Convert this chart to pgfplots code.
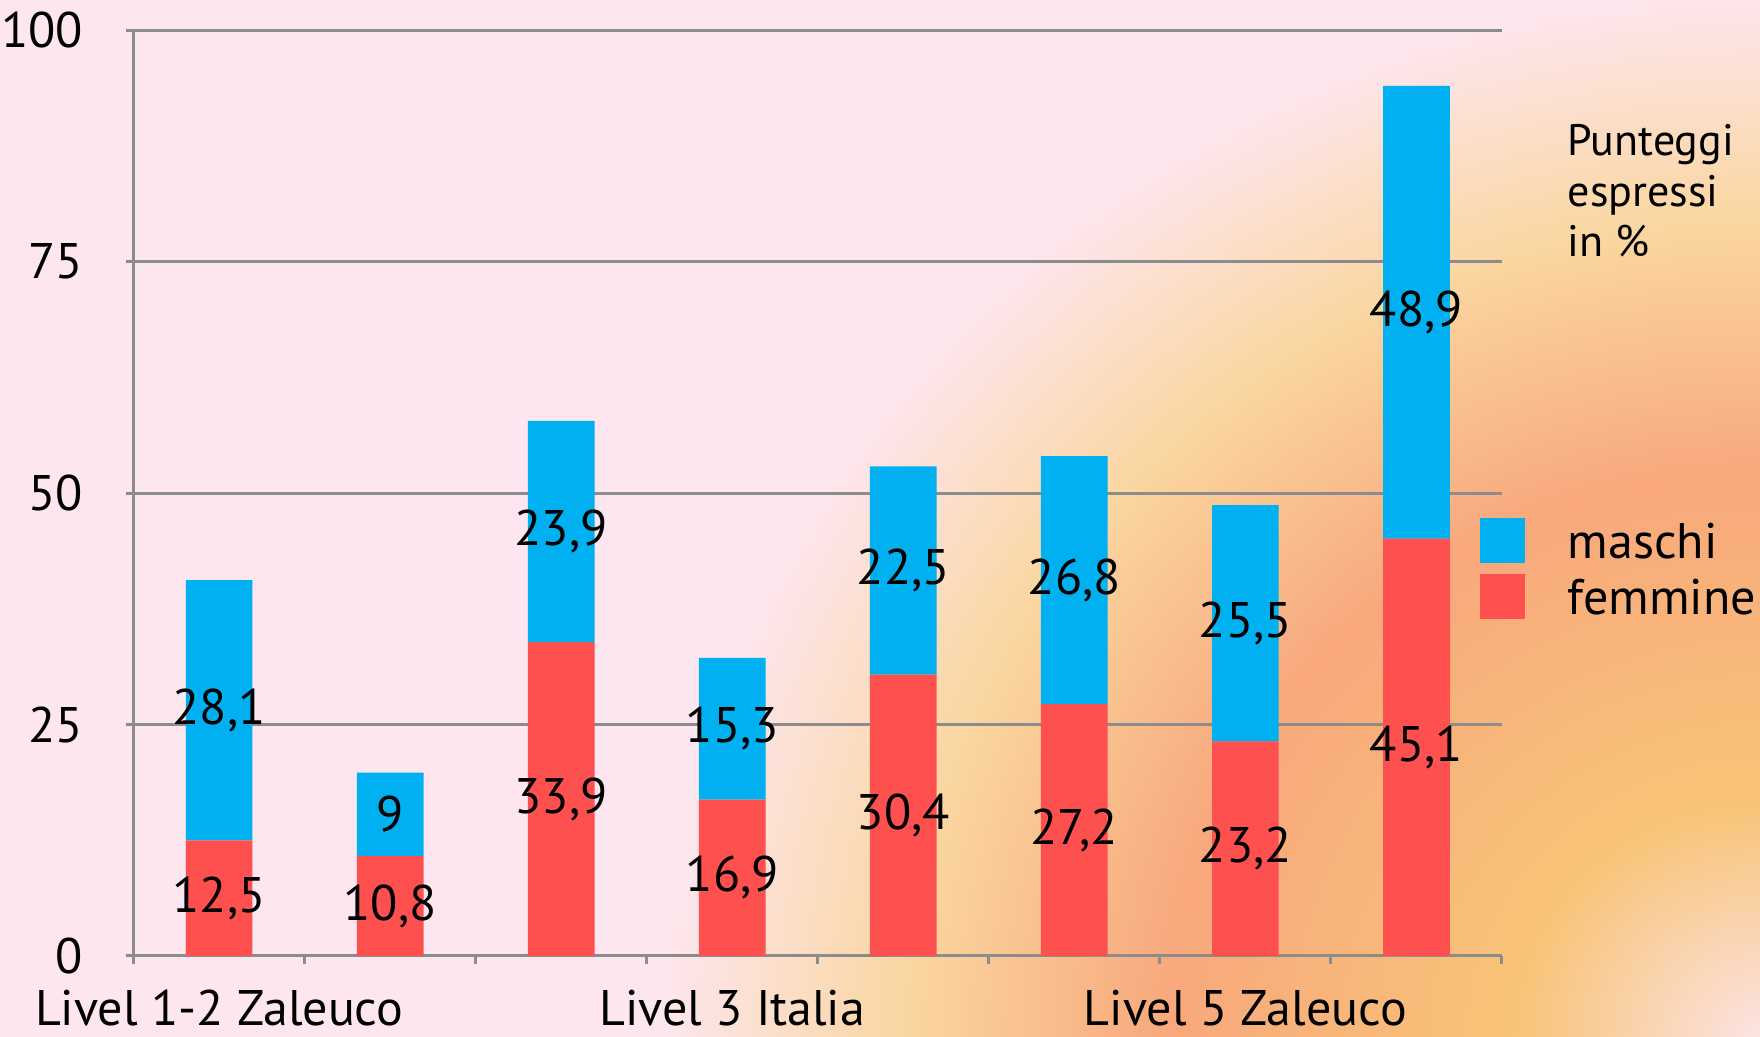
\documentclass[border=0pt]{standalone}
\usepackage{pgfplots}
\pgfplotsset{compat=1.18}
\usepackage{pgfplotstable}
\usepackage{fontspec}
\setmainfont{PT Sans}
\definecolor{bgpink}{HTML}{FDE6EF}
\definecolor{cC}{HTML}{FCE3E3}
\definecolor{cY}{HTML}{F8C478}
\definecolor{cS}{HTML}{F8A87C}
\definecolor{cL}{HTML}{FAD6A0}
\definecolor{bluec}{HTML}{00B0F0}
\definecolor{redc}{HTML}{FF5050}
\definecolor{gridgray}{HTML}{8C8C8C}
\pgfdeclareradialshading{bgshade}{\pgfpoint{0bp}{0bp}}{color(0bp)=(cC); color(5.5bp)=(cY); color(13.4bp)=(cS); color(19.4bp)=(cL); color(25bp)=(bgpink); color(50bp)=(bgpink)}

\pgfplotstableread{
x f m
0 12.5 28.1
1 10.8 9
2 33.9 23.9
3 16.9 15.3
4 30.4 22.5
5 27.2 26.8
6 23.2 25.5
7 45.1 48.9
}\datatable

\pgfplotstableread{
x y lab
0 6.25 12,5
0 26.55 28,1
1 5.4 10,8
1 15.3 9
2 16.95 33,9
2 45.85 23,9
3 8.45 16,9
3 24.55 15,3
4 15.2 30,4
4 41.65 22,5
5 13.6 27,2
5 40.6 26,8
6 11.6 23,2
6 35.95 25,5
7 22.55 45,1
7 69.55 48,9
}\labeltable

\begin{document}
\begin{tikzpicture}
\begin{scope}
\clip (-33.4pt,-20.25pt) rectangle (406.6pt,239pt);
\fill[bgpink] (-33.4pt,-20.25pt) rectangle (406.6pt,239pt);
\shade[shading=bgshade] (406.6pt,-20.25pt) ellipse [x radius=275pt, y radius=262pt];
\end{scope}
\begin{axis}[
  at={(0,0)}, anchor=south west, scale only axis,
  width=342.1pt, height=231.4pt,
  xmin=-0.5, xmax=7.5, ymin=0, ymax=100,
  ybar stacked, bar width=0.39,
  axis x line*=bottom, axis y line*=left,
  axis line style={draw=gridgray, line width=0.75pt, -},
  ytick={0,25,50,75,100},
  ymajorgrids, grid style={draw=gridgray, line width=0.75pt},
  xtick={-0.5,0.5,...,7.5}, xticklabels={},
  extra x ticks={0,3,6},
  extra x tick labels={Livel 1-2 Zaleuco, Livel 3 Italia, Livel 5 Zaleuco},
  extra x tick style={major tick length=0pt, grid=none},
  tick align=outside, major tick length=2pt,
  tick style={draw=gridgray, line width=0.75pt},
  /pgf/number format/assume math mode=true,
  yticklabel style={anchor=east, inner sep=0pt, xshift=-10.5pt, font=\fontsize{12.5}{15}\selectfont},
  xticklabel style={anchor=base, inner sep=0pt, text depth=0pt, yshift=-17.5pt, font=\fontsize{12.5}{15}\selectfont},
  reverse legend,
  legend image code/.code={\fill[#1] (0pt,-5.625pt) rectangle (11.25pt,5.625pt);},
  legend style={at={(0.9832,0.4743)}, anchor=north west, draw=none, fill=none,
    inner sep=0pt, row sep=2.75pt, font=\fontsize{12.5}{15}\selectfont,
    nodes={inner sep=0pt, text height=9pt, text depth=0pt},
    /tikz/every odd column/.append style={column sep=10.75pt}},
  legend cell align=left,
]
\addplot[fill=redc, draw=none] table[x=x, y=f]{\datatable};
\addlegendentry{femmine}
\addplot[fill=bluec, draw=none] table[x=x, y=m]{\datatable};
\addlegendentry{maschi}
\end{axis}
\begin{axis}[
  at={(0,0)}, anchor=south west, scale only axis,
  width=342.1pt, height=231.4pt,
  xmin=-0.5, xmax=7.5, ymin=0, ymax=100,
  hide axis,
]
\addplot[draw=none, mark=none, nodes near coords, point meta=explicit symbolic,
  every node near coord/.append style={anchor=center, inner sep=0pt, font=\fontsize{12.5}{15}\selectfont}]
  table[x=x, y=y, meta=lab]{\labeltable};
\end{axis}
\node[anchor=north west, align=left, inner sep=0pt, font=\fontsize{11}{12.6}\selectfont] at (358.35pt,208pt) {Punteggi\\espressi\\in \%};
\pgfresetboundingbox
\path (-33.4pt,-20.25pt) rectangle (406.6pt,239pt);
\end{tikzpicture}
\end{document}
